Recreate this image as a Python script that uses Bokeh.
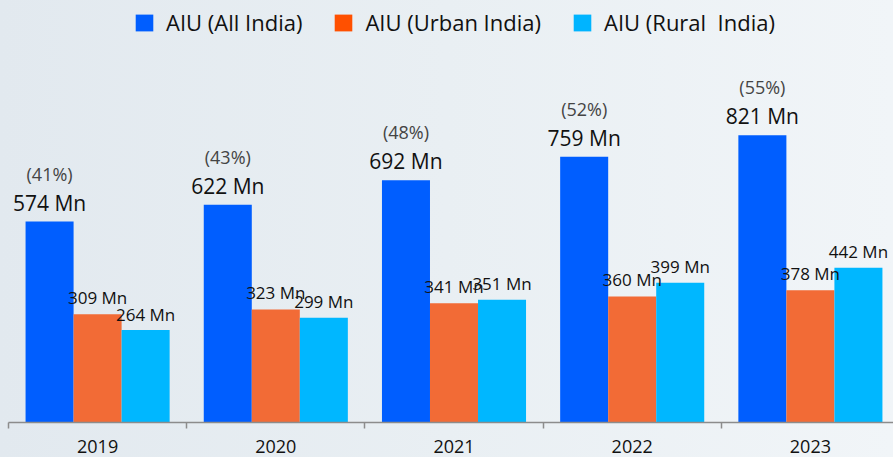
from bokeh.plotting import figure
from bokeh.models import ColumnDataSource, Range1d, FixedTicker, Legend, LegendItem
from bokeh.transform import dodge
from bokeh.core.properties import value
from bokeh.embed import file_html
from bokeh.resources import INLINE

# ---- data ----
years = ["2019", "2020", "2021", "2022", "2023"]
all_india = [574, 622, 692, 759, 821]
urban_india = [309, 323, 341, 360, 378]
rural_india = [264, 299, 351, 399, 442]
share_pct = [41, 43, 48, 52, 55]
series_names = ["AIU (All India)", "AIU (Urban India)", "AIU (Rural  India)"]

bar_colors = ["#005EFF", "#F26B36", "#00B7FF"]
legend_colors = ["#005EFF", "#FF5000", "#00B4FF"]

FONT = "Open Sans"
cat_px = 178.2
frame_w = 885
frame_h = 422
px_per_unit = 0.35

xc = [i + 0.5 for i in range(len(years))]
src = ColumnDataSource(dict(
    xc=xc,
    all=all_india,
    urban=urban_india,
    rural=rural_india,
    all_lbl=[f"{v} Mn" for v in all_india],
    urban_lbl=[f"{v} Mn" for v in urban_india],
    rural_lbl=[f"{v} Mn" for v in rural_india],
    pct_lbl=[f"({v}%)" for v in share_pct],
))

p = figure(frame_width=frame_w, frame_height=frame_h,
           x_range=Range1d(0, frame_w / cat_px),
           y_range=Range1d(0, frame_h / px_per_unit),
           output_backend="svg", toolbar_location=None,
           y_axis_location=None,
           min_border_left=8, min_border_right=0, min_border_top=0, min_border_bottom=35)
p.background_fill_color = None
p.border_fill_color = None
p.outline_line_color = None
p.grid.visible = False
p.styles = {"background": "linear-gradient(90deg, #e2e9ef 0%, #e9eff3 50%, #f1f5f8 100%)"}

bw = 0.2695
off = [-bw, 0.0, bw]
cols = ["all", "urban", "rural"]
legend_renderers = []
for k in range(3):
    p.vbar(x=dodge("xc", off[k], range=p.x_range), top=cols[k], width=bw,
           source=src, fill_color=bar_colors[k], line_color=None)
    lr = p.vbar(x=dodge("xc", off[k], range=p.x_range), top=cols[k], width=bw,
                source=src, fill_color=legend_colors[k], line_color=None, visible=False)
    legend_renderers.append(lr)

# value labels
p.text(x=dodge("xc", off[0], range=p.x_range), y="all", text="all_lbl", source=src,
       text_font=value(FONT), text_font_size="21px", text_color="#111111",
       text_align="center", text_baseline="middle", y_offset=-19)
p.text(x=dodge("xc", off[0], range=p.x_range), y="all", text="pct_lbl", source=src,
       text_font=value(FONT), text_font_size="18px", text_color="#444444",
       text_align="center", text_baseline="middle", y_offset=-48)
p.text(x=dodge("xc", off[1], range=p.x_range), y="urban", text="urban_lbl", source=src,
       text_font=value(FONT), text_font_size="17px", text_color="#111111",
       text_align="center", text_baseline="middle", y_offset=-17)
p.text(x=dodge("xc", off[2], range=p.x_range), y="rural", text="rural_lbl", source=src,
       text_font=value(FONT), text_font_size="17px", text_color="#111111",
       text_align="center", text_baseline="middle", y_offset=-16)

# legend
items = [LegendItem(label=series_names[k], renderers=[legend_renderers[k]]) for k in range(3)]
leg = Legend(items=items, orientation="horizontal", location=(125, 385),
             glyph_width=22, glyph_height=21, label_standoff=11, spacing=30,
             padding=0, margin=0, border_line_color=None, background_fill_alpha=0,
             label_text_font=FONT, label_text_font_size="22px", label_text_color="#111111")
p.add_layout(leg, "center")

# x axis
ax = p.xaxis[0]
ax.ticker = FixedTicker(ticks=xc, minor_ticks=list(range(len(years) + 1)))
ax.major_label_overrides = {x: y for x, y in zip(xc, years)}
ax.major_tick_line_color = None
ax.major_tick_out = 0
ax.major_tick_in = 0
ax.minor_tick_out = 6
ax.minor_tick_in = 0
ax.minor_tick_line_color = "#8c8c8c"
ax.minor_tick_line_width = 1.5
ax.axis_line_color = "#8c8c8c"
ax.axis_line_width = 1.5
ax.major_label_standoff = 11
ax.major_label_text_font = FONT
ax.major_label_text_font_size = "18px"
ax.major_label_text_color = "#111111"

open("out.html", "w").write(file_html(p, INLINE))
